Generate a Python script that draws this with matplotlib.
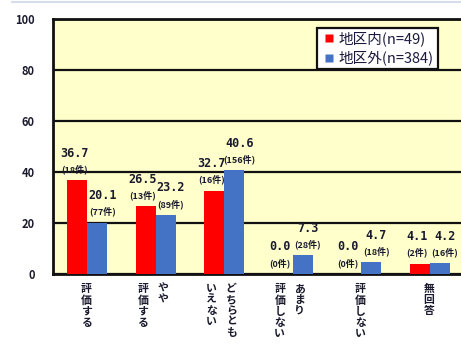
import matplotlib
matplotlib.use("Agg")
import matplotlib.pyplot as plt
from matplotlib.lines import Line2D
import numpy as np

plt.rcParams['font.family'] = ['Noto Sans CJK JP', 'DejaVu Sans']

categories = ["評価する", "やや評価する", "どちらともいえない", "あまり評価しない", "評価しない", "無回答"]
# vertical label columns, right column first (Japanese vertical writing)
label_columns = [["評価する"], ["やや", "評価する"], ["どちらとも", "いえない"],
                 ["あまり", "評価しない"], ["評価しない"], ["無回答"]]
inside_pct = [36.7, 26.5, 32.7, 0.0, 0.0, 4.1]
inside_cnt = [18, 13, 16, 0, 0, 2]
outside_pct = [20.1, 23.2, 40.6, 7.3, 4.7, 4.2]
outside_cnt = [77, 89, 156, 28, 18, 16]
series_names = ["地区内(n=49)", "地区外(n=384)"]
yticks = [0, 20, 40, 60, 80, 100]

RED = "#FF0000"
BLUE = "#4472C4"
BG = "#FFFFCC"
INK = "#1a1a2e"

DPI = 100
PT = 72 / DPI  # points per pixel

fig = plt.figure(figsize=(4.61, 3.52), dpi=DPI)
fig.patch.set_facecolor("white")
W, H = 461, 352
x0, x1 = 53, 464
y_top, y_bot = 19, 274
ax = fig.add_axes([x0 / W, 1 - y_bot / H, (x1 - x0) / W, (y_bot - y_top) / H])
ax.set_facecolor(BG)

x = np.arange(len(categories))
bw = 0.29
ax.bar(x - bw / 2, inside_pct, bw, color=RED, zorder=3)
ax.bar(x + bw / 2, outside_pct, bw, color=BLUE, zorder=3)

ax.set_xlim(-0.5, len(categories) - 0.5)
ax.set_ylim(0, 100)
ax.set_yticks(yticks)
ax.set_yticklabels([str(v) for v in yticks], fontsize=8, fontweight="bold", color=INK)
ax.tick_params(axis="y", length=0, pad=13)
ax.set_xticks([])
ax.yaxis.grid(True, color="#111111", linewidth=1.6, zorder=1)
ax.set_axisbelow(True)
for s in ax.spines.values():
    s.set_linewidth(2.0)
    s.set_color("#111111")

# value labels: percentage above, count below
for xi, pct, cnt, off_px in [(x - bw / 2, inside_pct, inside_cnt, -3),
                             (x + bw / 2, outside_pct, outside_cnt, 5)]:
    for xx, p, c in zip(xi, pct, cnt):
        ax.annotate(f"({c}件)", (xx, p), xytext=(off_px * PT, 11 * PT),
                    textcoords="offset points", ha="center", va="center",
                    fontsize=6.5, fontweight="bold", color=INK, zorder=5)
        ax.annotate(f"{p:.1f}", (xx, p), xytext=(off_px * PT, 27 * PT),
                    textcoords="offset points", ha="center", va="center",
                    fontsize=8.5, fontweight="bold", family="DejaVu Sans Mono",
                    color=INK, zorder=5)

# vertical category labels below the axis
for i, cols in enumerate(label_columns):
    offsets = [-1] if len(cols) == 1 else [7, -13]
    for col, dx in zip(cols, offsets):
        ax.annotate("\n".join(col), (i, 0), xytext=(dx * PT, -10 * PT),
                    textcoords="offset points", ha="center", va="top",
                    fontsize=7.8, fontweight="bold", color=INK,
                    linespacing=1.12, annotation_clip=False)

handles = [Line2D([], [], linestyle="none", marker="s", markersize=6,
                  markerfacecolor=c, markeredgecolor="none") for c in (RED, BLUE)]
leg = ax.legend(handles, series_names, loc="upper left",
                bbox_to_anchor=((317 - x0) / (x1 - x0), (y_bot - 28) / (y_bot - y_top)),
                fontsize=10.5, frameon=True, fancybox=False, handlelength=1.2,
                handletextpad=0.05, borderpad=0.25, labelspacing=0.3,
                borderaxespad=0)
leg.get_frame().set_edgecolor("#111111")
leg.get_frame().set_linewidth(1.6)
leg.get_frame().set_facecolor("white")
leg.get_frame().set_alpha(1)
leg.set_zorder(6)
for t in leg.get_texts():
    t.set_color("#1a1a3e")

# thin page rule along the top edge
fig.add_artist(Line2D([12 / W, 1], [1 - 1.5 / H, 1 - 1.5 / H], color="#D5DDEB",
                      linewidth=1.5, transform=fig.transFigure))

fig.savefig("out.png", dpi=DPI, facecolor="white")
